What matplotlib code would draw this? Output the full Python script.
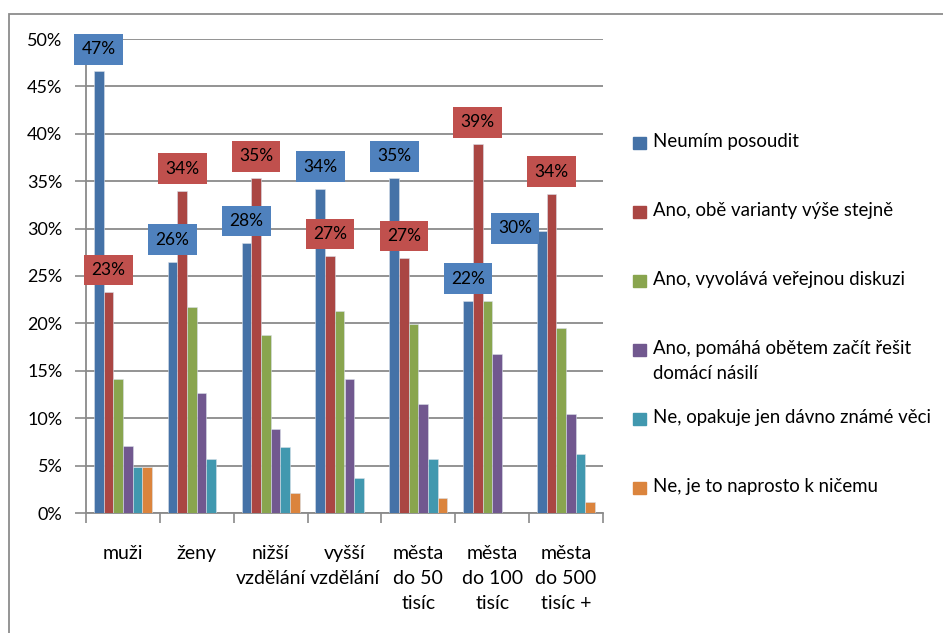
import numpy as np
import matplotlib
matplotlib.use('Agg')
import matplotlib.pyplot as plt
from matplotlib.patches import Rectangle

plt.rcParams['font.family'] = ['Lato', 'DejaVu Sans']

categories = ['muži', 'ženy', 'nižší\nvzdělání', 'vyšší\nvzdělání',
              'města\ndo 50\ntisíc', 'města\ndo 100\ntisíc', 'města\ndo 500\ntisíc +']
series_names = ['Neumím posoudit',
                'Ano, obě varianty výše stejně',
                'Ano, vyvolává veřejnou diskuzi',
                'Ano, pomáhá obětem začít řešit\ndomácí násilí',
                'Ne, opakuje jen dávno známé věci',
                'Ne, je to naprosto k ničemu']
neumim = [46.6, 26.5, 28.5, 34.2, 35.3, 22.4, 29.7]
obe = [23.3, 34.0, 35.3, 27.1, 26.9, 38.9, 33.7]
diskuze = [14.1, 21.7, 18.8, 21.3, 19.9, 22.4, 19.5]
pomaha = [7.1, 12.7, 8.9, 14.1, 11.5, 16.8, 10.4]
opakuje = [4.8, 5.7, 7.0, 3.7, 5.7, 0.0, 6.2]
k_nicemu = [4.8, 0.0, 2.1, 0.0, 1.6, 0.0, 1.2]
values = [neumim, obe, diskuze, pomaha, opakuje, k_nicemu]

bar_colors = ['#4572A7', '#AA4643', '#89A54E', '#71588F', '#4198AF', '#DB843D']
box_colors = ['#4F81BD', '#C0504D']

fig = plt.figure(figsize=(9.43, 6.33), dpi=100)
ax = fig.add_axes([86/943, 1-513/633, (603-86)/943, (513-39)/633])

x = np.arange(len(categories))
w = 0.131
for i, vals in enumerate(values):
    pos = x + (i - 2.5) * w
    ax.bar(pos, vals, width=w, color=bar_colors[i], edgecolor='#d8dfe8',
           linewidth=0.4, zorder=3)
    if i < 2:
        for j, v in enumerate(vals):
            off = (0, 22)
            if i == 0 and j == 6:
                off = (-27, 3)
            ax.annotate(f'{round(v):d}%', (pos[j], v), xytext=off,
                        textcoords='offset pixels', ha='center', va='center',
                        fontsize=12.5, color='black', zorder=5,
                        bbox=dict(boxstyle='square,pad=0.42', fc=box_colors[i], ec='none'))

ax.set_xlim(-0.5, len(categories) - 0.5)
ax.set_ylim(0, 50)
ax.set_yticks(np.arange(0, 51, 5))
ax.set_yticklabels([f'{t}%' for t in range(0, 51, 5)])
ax.yaxis.grid(True, color='#8a8a8a', linewidth=1.3, zorder=0)
ax.set_axisbelow(True)

ax.set_xticks(x)
ax.set_xticklabels(categories, linespacing=1.58)
ax.set_xticks(np.arange(-0.5, len(categories)), minor=True)
ax.tick_params(axis='x', which='major', length=0, pad=23, labelsize=14)
ax.tick_params(axis='x', which='minor', length=7, width=1.2, color='#8a8a8a')
ax.tick_params(axis='y', length=8, width=1.2, color='#8a8a8a', pad=9, labelsize=13)

for s in ['top', 'right']:
    ax.spines[s].set_visible(False)
for s in ['left', 'bottom']:
    ax.spines[s].set_color('#8a8a8a')
    ax.spines[s].set_linewidth(1.3)

# legend drawn by hand, fixed row pitch as in the original
for i, name in enumerate(series_names):
    yc = 143 + i * 69
    fig.patches.append(Rectangle((633/943, 1-(yc+6)/633), 13/943, 12/633,
                                 transform=fig.transFigure, color=bar_colors[i]))
    fig.text(653/943, 1-(yc-10)/633, name, fontsize=13.4, va='top', ha='left',
             linespacing=1.6)

# outer chart frame
fig.patches.append(Rectangle((9/943, -0.1), 1.2, 0.1 + 1 - 14/633,
                             transform=fig.transFigure, fill=False,
                             ec='#8c8c8c', lw=1.3))

fig.savefig('out.png', dpi=100)
